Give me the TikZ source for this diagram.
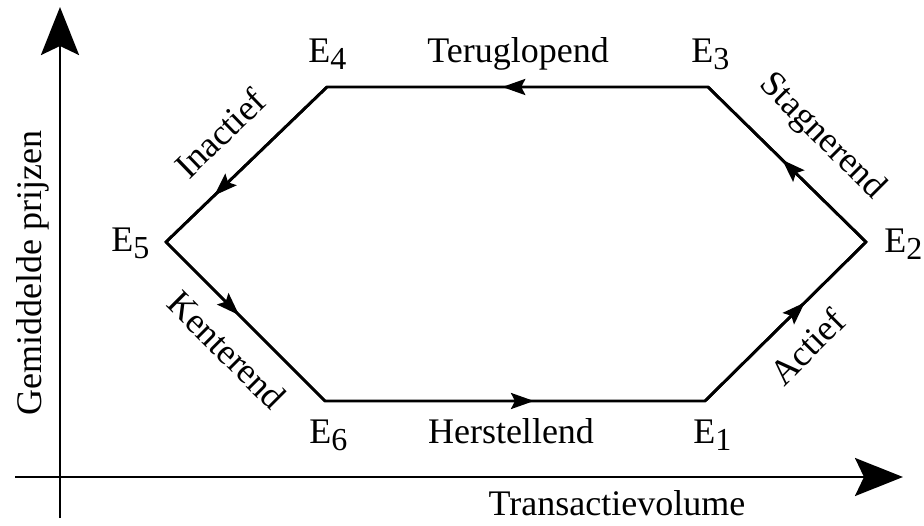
\documentclass[tikz,border=0pt]{standalone}
\usepackage{fontspec}
\setmainfont{Liberation Serif}
\usetikzlibrary{arrows.meta,decorations.markings}
\newcommand\esub[1]{\raisebox{-7pt}{\fontsize{32}{32}\selectfont #1}}
\begin{document}
\begin{tikzpicture}[x=1pt,y=-1pt,
  line width=2.8pt,
  lbl/.style={inner sep=0pt, font=\fontsize{36}{40}\selectfont},
  axis/.style={-{Stealth[length=48pt,width=38pt,inset=9pt]}},
  flow/.style={postaction={decorate}, decoration={markings,
     mark=at position #1 with {\arrow{Stealth[length=23pt,width=16pt,inset=4pt]}}}}
]
\useasboundingbox (0,0) rectangle (924,526);
% axes
\coordinate (yb) at (60,518);
\coordinate (yt) at (60,7);
\coordinate (xl) at (15,477);
\coordinate (xr) at (903,477);
\draw[axis] (yb) -- (yt);
\draw[axis] (xl) -- (xr);
% hexagon corners
\coordinate (E1) at (705,401);
\coordinate (E2) at (866,242);
\coordinate (E3) at (708,87);
\coordinate (E4) at (327,87);
\coordinate (E5) at (166,242);
\coordinate (E6) at (325,401);
\draw[line join=miter] (E1) -- (E2) -- (E3) -- (E4) -- (E5) -- (E6) -- cycle;
\draw[flow=0.55] (E6) -- (E1);
\draw[flow=0.62] (E1) -- (E2);
\draw[flow=0.53] (E2) -- (E3);
\draw[flow=0.54] (E3) -- (E4);
\draw[flow=0.70] (E4) -- (E5);
\draw[flow=0.46] (E5) -- (E6);
% corner labels
\node[lbl, anchor=base west] (n1) at (692,443) {E\esub{1}};
\node[lbl, anchor=base west] (n2) at (883,253) {E\esub{2}};
\node[lbl, anchor=base west] (n3) at (690,63) {E\esub{3}};
\node[lbl, anchor=base west] (n4) at (307,63) {E\esub{4}};
\node[lbl, anchor=base west] (n5) at (110,252) {E\esub{5}};
\node[lbl, anchor=base west] (n6) at (308,443) {E\esub{6}};
% phase labels
\node[lbl, anchor=base] (terug) at (518,63) {Teruglopend};
\node[lbl, anchor=base] (herst) at (511,443) {Herstellend};
\node[lbl, rotate=44] (inact) at (220,133) {Inactief};
\node[lbl, rotate=-45] (stag) at (822,137) {Stagnerend};
\node[lbl, rotate=-45] (kent) at (227,350) {Kenterend};
\node[lbl, rotate=45] (act) at (807,347) {Actief};
% axis labels
\node[lbl, rotate=90, anchor=base west] (ylab) at (41,417) {Gemiddelde prijzen};
\node[lbl, anchor=base] (xlab) at (617,515) {Transactievolume};
\end{tikzpicture}
\end{document}
